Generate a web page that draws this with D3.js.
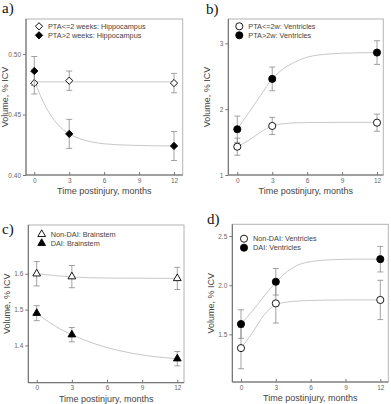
<!DOCTYPE html>
<html>
<head>
<meta charset="utf-8">
<script src="https://cdn.jsdelivr.net/npm/d3@7"></script>
<style>
  body { margin: 0; background: #fff; }
  svg { display: block; font-family: "Liberation Sans", Arial, sans-serif; }
</style>
</head>
<body>
<div id="chart"></div>
<script>
// months of follow-up and x tick labels
const months = [0, 3, 12]
const xTicks = [0, 3, 6, 9, 12]

// a) hippocampus
const aOpen = [0.476, 0.478, 0.476]
const aOpenErr = [0.009, 0.008, 0.008]
const aFilled = [0.486, 0.434, 0.424]
const aFilledErr = [0.012, 0.012, 0.012]
const aOpenFitT = [0, 12]
const aOpenFit = [0.477, 0.477]
const aFilledFitT = [0, 1, 2, 3, 4, 6, 8, 10, 12]
const aFilledFit = [0.478, 0.456, 0.442, 0.434, 0.4298, 0.4258, 0.4247, 0.4242, 0.424]
const aTicks = [0.40, 0.45, 0.50]

// b) ventricles by PTA
const bOpen = [1.43, 1.745, 1.795]
const bOpenErr = [0.13, 0.13, 0.13]
const bFilled = [1.695, 2.46, 2.86]
const bFilledErr = [0.2, 0.18, 0.18]
const bOpenFitT = [0, 1, 2, 3, 4, 5, 6, 9, 12]
const bOpenFit = [1.43, 1.53, 1.65, 1.745, 1.78, 1.792, 1.797, 1.8, 1.8]
const bFilledFitT = [0, 1, 2, 3, 4, 5, 6, 8, 10, 12]
const bFilledFit = [1.70, 1.95, 2.21, 2.46, 2.62, 2.72, 2.79, 2.84, 2.855, 2.86]
const bTicks = [1, 2, 3]

// c) brainstem
const cOpen = [1.60, 1.592, 1.587]
const cOpenErr = [0.034, 0.031, 0.031]
const cFilled = [1.49, 1.43, 1.363]
const cFilledErr = [0.021, 0.02, 0.02]
const cOpenFitT = [0, 3, 6, 12]
const cOpenFit = [1.60, 1.591, 1.588, 1.587]
const cFilledFitT = [0, 1, 2, 3, 4, 6, 8, 10, 12]
const cFilledFit = [1.49, 1.466, 1.446, 1.43, 1.416, 1.394, 1.379, 1.369, 1.363]
const cTicks = [1.4, 1.5, 1.6]

// d) ventricles by DAI
const dOpen = [1.36, 1.815, 1.85]
const dOpenErr = [0.21, 0.2, 0.2]
const dFilled = [1.605, 2.035, 2.265]
const dFilledErr = [0.145, 0.135, 0.13]
const dOpenFitT = [0, 1, 2, 3, 4, 5, 6, 9, 12]
const dOpenFit = [1.36, 1.52, 1.70, 1.80, 1.83, 1.84, 1.845, 1.85, 1.85]
const dFilledFitT = [0, 1, 2, 3, 4, 5, 6, 8, 10, 12]
const dFilledFit = [1.605, 1.74, 1.89, 2.03, 2.14, 2.21, 2.24, 2.26, 2.265, 2.265]
const dTicks = [1.5, 2.0, 2.5]

const svg = d3.select('#chart').append('svg')
  .attr('width', 391).attr('height', 404)

function marker(kind, filled) {
  let type = d3.symbolCircle, size = 40, rot = 0
  if (kind === 'diamond') { type = d3.symbolSquare; size = 26; rot = 45 }
  if (kind === 'triangle') { type = d3.symbolTriangle; size = 26 }
  return { path: d3.symbol().type(type).size(size)(), rot: rot,
    fill: filled ? '#000' : '#fff' }
}

function panel(p) {
  const g = svg.append('g')
  const x = d3.scaleLinear().domain([0, 12]).range(p.xr)
  const y = d3.scaleLinear().domain(p.yd).range([p.bottom, p.top])

  // light frame
  g.append('rect')
    .attr('x', p.left).attr('y', p.top)
    .attr('width', p.right - p.left).attr('height', p.bottom - p.top)
    .attr('fill', 'none').attr('stroke', '#b4b4b4').attr('stroke-width', 1)

  // x axis
  const xa = g.append('g')
    .attr('transform', 'translate(0,' + p.bottom + ')')
    .call(d3.axisBottom(x).tickValues(xTicks).tickSizeInner(-3).tickSizeOuter(0).tickPadding(3))
  xa.select('.domain').attr('d', 'M' + p.left + ',0H' + p.right)

  // y axis
  const ya = g.append('g')
    .attr('transform', 'translate(' + p.left + ',0)')
    .call(d3.axisLeft(y).tickValues(p.ticks).tickFormat(d3.format(p.fmt)).tickSize(3).tickSizeOuter(0).tickPadding(2))
  ya.select('.domain').attr('d', 'M0,' + p.top + 'V' + p.bottom)

  g.selectAll('.domain').attr('stroke', '#666')
  g.selectAll('.tick line').attr('stroke', '#777')
  g.selectAll('.tick text').attr('fill', '#666').style('font-size', '6.5px')

  // axis titles
  g.append('text')
    .attr('x', (p.left + p.right) / 2).attr('y', p.bottom + 19)
    .attr('text-anchor', 'middle').attr('fill', '#444')
    .style('font-size', '9px').text('Time postinjury, months')
  g.append('text')
    .attr('transform', 'translate(' + (p.left - 18) + ',' + ((p.top + p.bottom) / 2) + ') rotate(-90)')
    .attr('text-anchor', 'middle').attr('fill', '#444')
    .style('font-size', '9px').text('Volume, % ICV')

  // panel letter
  g.append('text')
    .attr('x', p.lx).attr('y', p.ly)
    .attr('font-family', '"Liberation Serif", "DejaVu Serif", serif')
    .style('font-size', '15px').attr('fill', '#111').text(p.letter)

  // fitted curves
  const line = d3.line().x(d => x(d[0])).y(d => y(d[1])).curve(d3.curveMonotoneX)
  p.fits.forEach(f => {
    g.append('path')
      .datum(d3.zip(f.t, f.v))
      .attr('fill', 'none').attr('stroke', '#c8c8c8').attr('stroke-width', 1)
      .attr('d', line)
  })

  // error bars and markers
  p.series.forEach(s => {
    const m = marker(p.kind, s.filled)
    const pts = months.map((t, i) => ({ t: t, v: s.v[i], e: s.e[i] }))
    const eb = g.append('g').attr('stroke', '#8a8a8a').attr('stroke-width', 0.8)
    eb.selectAll('line.v').data(pts).join('line').attr('class', 'v')
      .attr('x1', d => x(d.t)).attr('x2', d => x(d.t))
      .attr('y1', d => y(d.v + d.e)).attr('y2', d => y(d.v - d.e))
    eb.selectAll('line.t').data(pts).join('line').attr('class', 't')
      .attr('x1', d => x(d.t) - 3).attr('x2', d => x(d.t) + 3)
      .attr('y1', d => y(d.v + d.e)).attr('y2', d => y(d.v + d.e))
    eb.selectAll('line.b').data(pts).join('line').attr('class', 'b')
      .attr('x1', d => x(d.t) - 3).attr('x2', d => x(d.t) + 3)
      .attr('y1', d => y(d.v - d.e)).attr('y2', d => y(d.v - d.e))
    g.selectAll(null).data(pts).join('path')
      .attr('d', m.path)
      .attr('transform', d => 'translate(' + x(d.t) + ',' + y(d.v) + ') rotate(' + m.rot + ')')
      .attr('fill', m.fill).attr('stroke', '#000').attr('stroke-width', 0.9)
  })

  // legend
  p.series.forEach((s, i) => {
    const m = marker(p.kind, s.filled)
    const ly = p.legY + i * 9
    g.append('path').attr('d', m.path)
      .attr('transform', 'translate(' + p.legX + ',' + ly + ') rotate(' + m.rot + ')')
      .attr('fill', m.fill).attr('stroke', '#000').attr('stroke-width', 0.9)
    g.append('text').attr('x', p.legX + 9).attr('y', ly + 2.5)
      .attr('fill', '#444').style('font-size', '7.3px').text(s.name)
  })
}

panel({
  letter: 'a)', lx: 2, ly: 13,
  left: 26, right: 182.7, top: 19, bottom: 175, xr: [34.3, 174],
  yd: [0.40, 0.529], ticks: aTicks, fmt: '.2f', kind: 'diamond',
  legX: 39, legY: 26.3,
  series: [
    { name: 'PTA<=2 weeks: Hippocampus', v: aOpen, e: aOpenErr, filled: false },
    { name: 'PTA>2 weeks: Hippocampus', v: aFilled, e: aFilledErr, filled: true }
  ],
  fits: [{ t: aOpenFitT, v: aOpenFit }, { t: aFilledFitT, v: aFilledFit }]
})

panel({
  letter: 'b)', lx: 206, ly: 14,
  left: 228.3, right: 383.3, top: 19, bottom: 175, xr: [237.3, 377],
  yd: [1, 3.37], ticks: bTicks, fmt: 'd', kind: 'circle',
  legX: 239.3, legY: 26.3,
  series: [
    { name: 'PTA<=2w: Ventricles', v: bOpen, e: bOpenErr, filled: false },
    { name: 'PTA>2w: Ventricles', v: bFilled, e: bFilledErr, filled: true }
  ],
  fits: [{ t: bOpenFitT, v: bOpenFit }, { t: bFilledFitT, v: bFilledFit }]
})

panel({
  letter: 'c)', lx: 2, ly: 234,
  left: 28.3, right: 184, top: 225, bottom: 382.7, xr: [36.7, 177.3],
  yd: [1.296, 1.736], ticks: cTicks, fmt: '.1f', kind: 'triangle',
  legX: 41.7, legY: 234.3,
  series: [
    { name: 'Non-DAI: Brainstem', v: cOpen, e: cOpenErr, filled: false },
    { name: 'DAI: Brainstem', v: cFilled, e: cFilledErr, filled: true }
  ],
  fits: [{ t: cOpenFitT, v: cOpenFit }, { t: cFilledFitT, v: cFilledFit }]
})

panel({
  letter: 'd)', lx: 207, ly: 224,
  left: 232.3, right: 388.3, top: 224.3, bottom: 382, xr: [241, 380.3],
  yd: [1.015, 2.62], ticks: dTicks, fmt: '.1f', kind: 'circle',
  legX: 244, legY: 238.7,
  series: [
    { name: 'Non-DAI: Ventricles', v: dOpen, e: dOpenErr, filled: false },
    { name: 'DAI: Ventricles', v: dFilled, e: dFilledErr, filled: true }
  ],
  fits: [{ t: dOpenFitT, v: dOpenFit }, { t: dFilledFitT, v: dFilledFit }]
})
</script>
</body>
</html>
